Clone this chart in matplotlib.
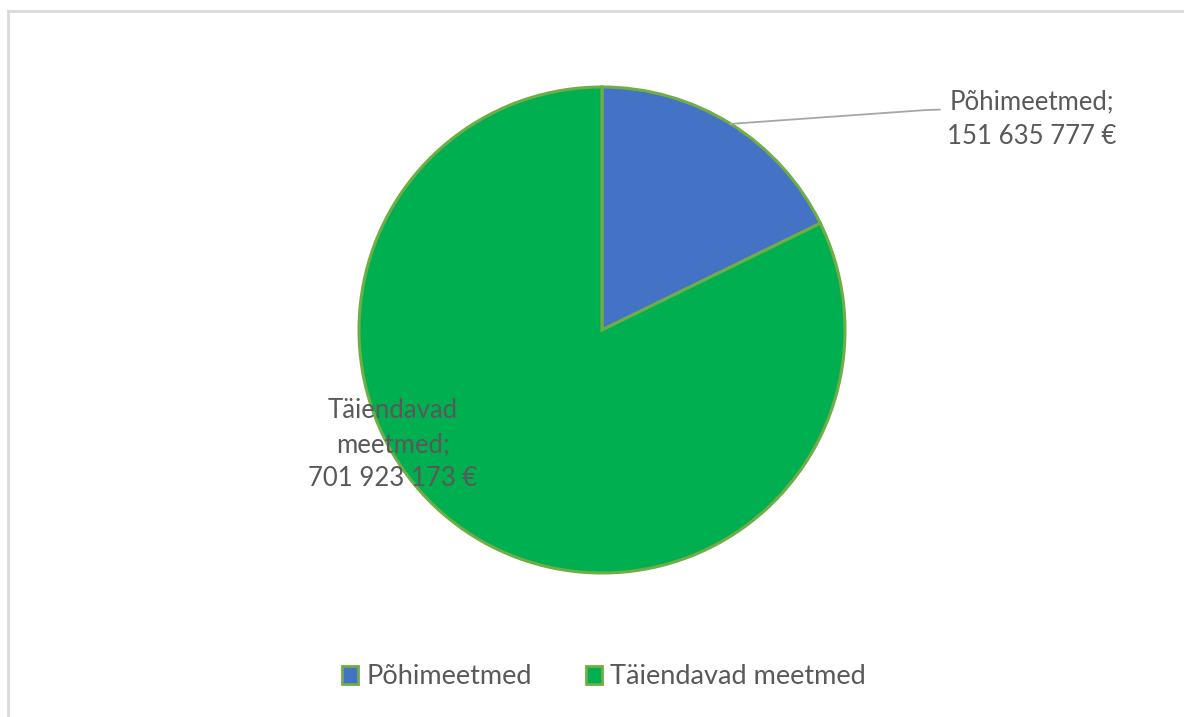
import matplotlib.pyplot as plt
import numpy as np

labels = ["Põhimeetmed", "Täiendavad meetmed"]
values = [151635777, 701923173]
value_labels = ["Põhimeetmed;\n151 635 777 €", "Täiendavad\nmeetmed;\n701 923 173 €"]
colors = ["#4472C4", "#00B050"]

plt.rcParams['font.family'] = ['Lato', 'DejaVu Sans']
text_color = "#595959"
fs = 18.5

W, H = 1184, 717
fig = plt.figure(figsize=(W / 100, H / 100), dpi=100)

# light frame along the top and left edges
fig.add_artist(plt.Line2D([8 / W, 1], [1 - 11 / H, 1 - 11 / H], color="#D9D9D9", lw=2))
fig.add_artist(plt.Line2D([8 / W, 8 / W], [0, 1 - 11 / H], color="#D9D9D9", lw=2))

cx, cy, r = 602, 330, 243
ax = fig.add_axes([(cx - r) / W, (H - cy - r) / H, 2 * r / W, 2 * r / H])
wedges, _ = ax.pie(values, colors=colors, startangle=90, counterclock=False,
                   wedgeprops=dict(edgecolor="#70AD47", linewidth=2.2))
ax.set_xlim(-1, 1)
ax.set_ylim(-1, 1)
ax.set_aspect('auto')
ax.axis('off')

# label for the small slice with a leader line from the mid-angle
mid = np.deg2rad(90 - 360 * values[0] / sum(values) / 2)
ax.plot([np.cos(mid), 1.33, 1.39], [np.sin(mid), 0.905, 0.907],
        color="#A6A6A6", lw=1.3, clip_on=False)
ax.text(1.77, 0.868, value_labels[0], ha="center", va="center", fontsize=fs,
        color=text_color, linespacing=1.5, clip_on=False)
ax.text(-0.86, -0.473, value_labels[1], ha="center", va="center", fontsize=fs,
        color=text_color, linespacing=1.45, clip_on=False)

handles = [plt.Rectangle((0, 0), 1, 1, facecolor=c, edgecolor="#70AD47", lw=2) for c in colors]
fig.legend(handles, labels, loc="center", bbox_to_anchor=(604 / W, 1 - 677 / H), ncol=2,
           frameon=False, fontsize=19.5, labelcolor=text_color, handlelength=0.6,
           handleheight=0.6, handletextpad=0.3, columnspacing=2.0)

fig.savefig("out.png", dpi=100)
